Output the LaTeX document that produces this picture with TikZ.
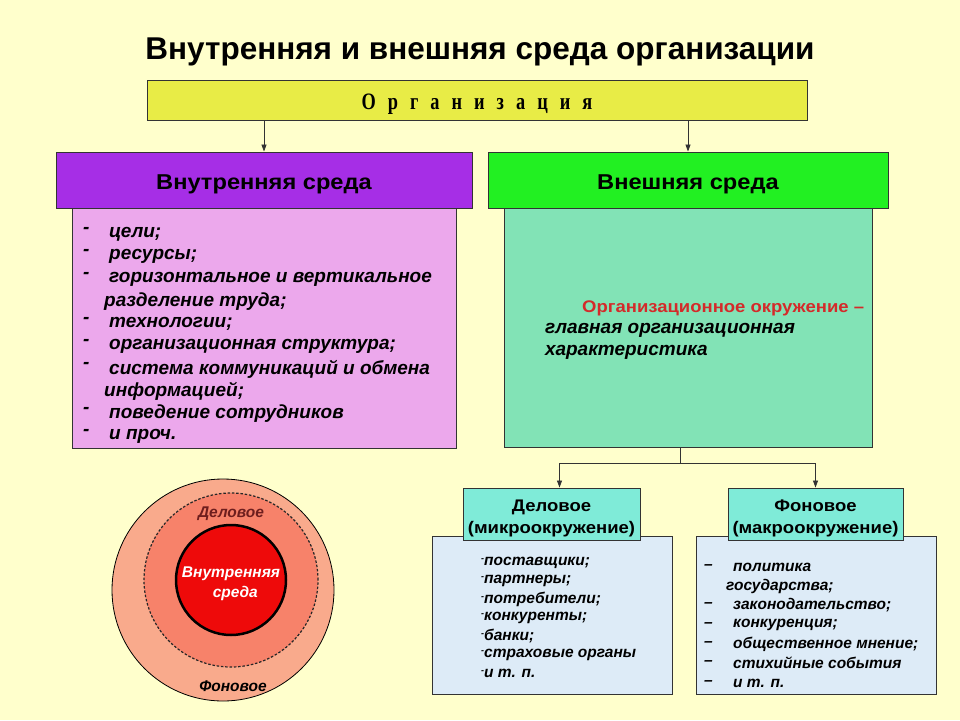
\documentclass[tikz,border=0pt]{standalone}
\usepackage{fontspec}
\setmainfont{Liberation Sans}
\newfontfamily\hdfont[FakeStretch=1.1]{Liberation Sans}
\newfontfamily\orgfont[FakeStretch=0.78]{Liberation Serif}
\usetikzlibrary{arrows.meta}

\definecolor{bgyellow}{HTML}{FFFFCC}
\definecolor{orgyellow}{HTML}{E8EC46}
\definecolor{purplehead}{HTML}{A62EE6}
\definecolor{pinkbox}{HTML}{ECA8EC}
\definecolor{greenhead}{HTML}{22F022}
\definecolor{tealbox}{HTML}{82E3B6}
\definecolor{aquahead}{HTML}{7FEBD8}
\definecolor{bluebox}{HTML}{DDEBF7}
\definecolor{outerring}{HTML}{F9AA8C}
\definecolor{midring}{HTML}{F7826A}
\definecolor{innerred}{HTML}{EE0A0A}
\definecolor{redtext}{HTML}{D42A2A}
\definecolor{ringtext}{HTML}{6E1E1E}

\begin{document}
\begin{tikzpicture}[x=1pt,y=-1pt,>={Triangle[length=7pt,width=5pt]}]
	\tikzstyle{box}=[rectangle,draw=black!80,line width=0.9pt,inner sep=0pt]
	\tikzstyle{head}=[box,font=\hdfont\bfseries\fontsize{21.5}{24}\selectfont]
	\tikzstyle{sub head}=[box,fill=aquahead,align=center,minimum height=52,font=\hdfont\bfseries\fontsize{16.8}{22}\selectfont]
	\tikzstyle{item}=[anchor=west,inner sep=0pt,font=\bfseries\itshape\fontsize{19}{22}\selectfont]
	\tikzstyle{small item}=[item,font=\bfseries\itshape\fontsize{15.5}{18}\selectfont]
	\tikzstyle{ring text}=[inner sep=0pt,font=\bfseries\itshape\fontsize{15.5}{20}\selectfont]
	\tikzstyle{link}=[->,draw=black!80,line width=0.8pt]

	% background and page size
	\fill[bgyellow] (0,0) rectangle (960,720);
	\useasboundingbox (0,0) rectangle (960,720);

	% Title and the top box
	\node[font=\bfseries\fontsize{31.5}{34}\selectfont] (title) at (480,52) {Внутренняя и внешняя среда организации};
	\node[box,fill=orgyellow,minimum width=660,minimum height=40] (org) at (477,100)
		{\orgfont\bfseries\fontsize{23.5}{26}\selectfont\spaceskip=12pt\rule{0pt}{24.5pt}О р г а н и з а ц и я};

	% Internal environment
	\node[box,fill=pinkbox,minimum width=384,minimum height=240] (in-box) at (264,328) {};
	\node[head,fill=purplehead,minimum width=416,minimum height=56] (in-head) at (264,180) {\rule{0pt}{24pt}Внутренняя среда};
	\foreach \name / \y / \t in {1/234/{цели;},2/256.5/{ресурсы;},3/279/{горизонтальное и вертикальное},
		4/324/{технологии;},5/346.5/{организационная структура;},6/369/{система коммуникаций и обмена},
		7/414/{поведение сотрудников},8/436.5/{и проч.}}
	{
		\node[item] (in-dash-\name) at (83,\y-4) {-};
		\node[item] (in-item-\name) at (109,\y) {\t};
	}
	\node[item] (in-more-1) at (104,301.5) {разделение труда;};
	\node[item] (in-more-2) at (104,391.5) {информацией;};

	% External environment
	\node[box,fill=tealbox,minimum width=368,minimum height=239] (ext-box) at (688,327.5) {};
	\node[head,fill=greenhead,minimum width=400,minimum height=56] (ext-head) at (688,180) {\rule{0pt}{24pt}Внешняя среда};
	\node[anchor=west,inner sep=0pt,text=redtext,font=\hdfont\bfseries\fontsize{16.8}{20}\selectfont] (ext-red) at (582,308) {Организационное окружение –};
	\node[item] (ext-line-1) at (545,330) {главная организационная};
	\node[item] (ext-line-2) at (545,352) {характеристика};

	% Business (micro) environment
	\node[box,fill=bluebox,minimum width=240,minimum height=158] (biz-box) at (552,615) {};
	\node[sub head,minimum width=177] (biz-head) at (551.5,514) {\rule{0pt}{20pt}Деловое\\(микроокружение)};
	\foreach \t [count=\i] in {поставщики;,партнеры;,потребители;,конкуренты;,банки;,страховые органы,и т. п.}
		\node[small item] (biz-item-\i) at (481,{544+18.5*\i}) {\raisebox{4pt}{\fontsize{9}{9}\selectfont-}\t};

	% Background (macro) environment
	\node[box,fill=bluebox,minimum width=240,minimum height=158] (bg-box) at (816,615) {};
	\node[sub head,minimum width=175] (bg-head) at (815.5,514) {\rule{0pt}{20pt}Фоновое\\(макроокружение)};
	\foreach \name / \y / \t in {1/567/{политика},2/605.5/{законодательство;},3/625/{конкуренция;},
		4/644/{общественное мнение;},5/663/{стихийные события},6/683/{и т. п.}}
	{
		\node[small item] (bg-dash-\name) at (704,\y) {–};
		\node[small item] (bg-item-\name) at (733,\y) {\t};
	}
	\node[small item] (bg-more-1) at (726,586.5) {государства;};

	% Connect the boxes
	\draw[link] (org.south -| in-head.north) -- (in-head.north);
	\draw[link] (org.south -| ext-head.north) -- (ext-head.north);
	\coordinate (split) at (680,463);
	\draw[draw=black!80,line width=0.8pt] ([xshift=-8]ext-box.south) -- (split);
	\draw[link] (split) -| ([xshift=8]biz-head.north);
	\draw[link] (split) -| (bg-head.north);

	% Rings
	\node[circle,draw=black,line width=0.8pt,fill=outerring,minimum size=222,inner sep=0pt] (outer-ring) at (223,590) {};
	\node[circle,draw=black!85,dash pattern=on 2.5pt off 1.8pt,line width=1.2pt,fill=midring,minimum size=174,inner sep=0pt] (mid-ring) at (231,580) {};
	\node[circle,draw=black,line width=2.5pt,fill=innerred,minimum size=110,inner sep=0pt,
		text=white,align=center,font=\bfseries\itshape\fontsize{15.5}{20}\selectfont] (inner-ring) at (231,580) {\rule{0pt}{18pt}Внутренняя\\\ \ среда};
	\node[ring text,text=ringtext] (biz-label) at (231,514) {Деловое};
	\node[ring text] (bg-label) at (233,686) {Фоновое};
\end{tikzpicture}
\end{document}
